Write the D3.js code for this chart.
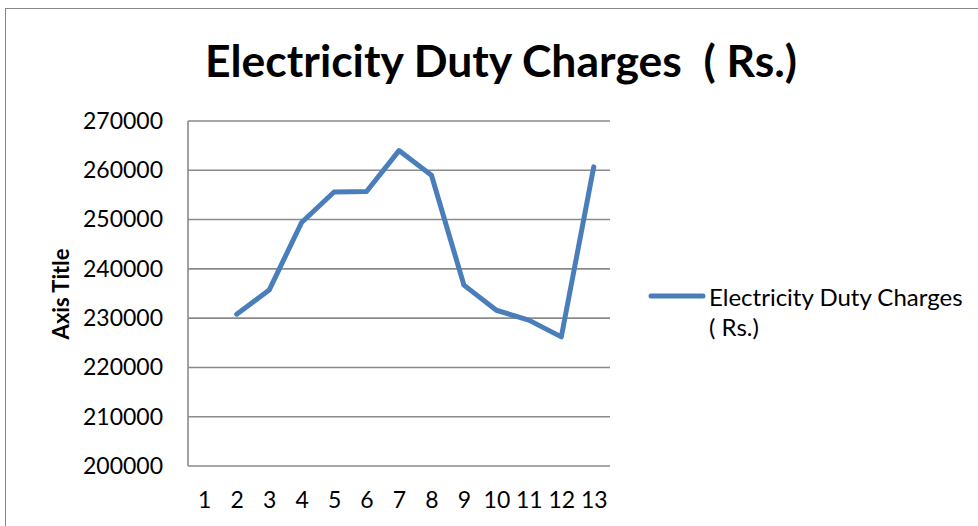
<!DOCTYPE html>
<html>
<head>
<meta charset="utf-8">
<script src="https://cdn.jsdelivr.net/npm/d3@7"></script>
<style>
  body { margin: 0; background: #fff; }
  svg { display: block; font-family: Lato, "Open Sans", sans-serif; }
</style>
</head>
<body>
<div id="chart"></div>
<script>
// categories on the x axis (1..13), first one has no value
var categories = ["1", "2", "3", "4", "5", "6", "7", "8", "9", "10", "11", "12", "13"];
var charges = [null, 230800, 235700, 249400, 255600, 255700, 264000, 259000, 236700, 231600, 229600, 226200, 260700];
var yTicks = [200000, 210000, 220000, 230000, 240000, 250000, 260000, 270000];
var seriesName = ["Electricity Duty Charges", "( Rs.)"];
var titleText = "Electricity Duty Charges  ( Rs.)";

var W = 978, H = 526;
var plot = {left: 188, right: 610, top: 121, bottom: 466};

var svg = d3.select("#chart").append("svg")
    .attr("width", W)
    .attr("height", H);

// chart frame (runs off the right / bottom edge)
svg.append("rect")
  .attr("x", 5.5).attr("y", 8.5)
  .attr("width", W).attr("height", H)
  .attr("fill", "none")
  .attr("stroke", "#878787")
  .attr("stroke-width", 1);

var x = d3.scalePoint().domain(categories)
    .range([plot.left, plot.right]).padding(0.5);
var y = d3.scaleLinear().domain([200000, 270000])
    .range([plot.bottom, plot.top]);

// gridlines
svg.append("g")
  .selectAll("line")
  .data(yTicks)
  .join("line")
  .attr("x1", plot.left).attr("x2", plot.right)
  .attr("y1", d => y(d)).attr("y2", d => y(d))
  .attr("stroke", "#8a8a8a")
  .attr("stroke-width", 1.6);

// y axis line
svg.append("line")
  .attr("x1", plot.left).attr("x2", plot.left)
  .attr("y1", plot.top).attr("y2", plot.bottom)
  .attr("stroke", "#8a8a8a")
  .attr("stroke-width", 1.6);

// y tick labels
var yAxis = svg.append("g")
    .attr("transform", "translate(" + plot.left + ",0)")
    .call(d3.axisLeft(y).tickValues(yTicks).tickSize(0).tickPadding(25).tickFormat(d3.format("d")));
yAxis.select(".domain").remove();
yAxis.selectAll("text")
  .attr("font-family", "Lato, 'Open Sans', sans-serif")
  .attr("font-size", 23)
  .attr("fill", "#000");

// x tick labels
var xAxis = svg.append("g")
    .attr("transform", "translate(0," + plot.bottom + ")")
    .call(d3.axisBottom(x).tickSize(0).tickPadding(26));
xAxis.select(".domain").remove();
xAxis.selectAll("text")
  .attr("font-family", "Lato, 'Open Sans', sans-serif")
  .attr("font-size", 23)
  .attr("fill", "#000");

// the series line
var line = d3.line()
    .defined(d => d != null)
    .x((d, i) => x(categories[i]))
    .y(d => y(d));

svg.append("path")
  .attr("fill", "none")
  .attr("stroke", "#4a7ebb")
  .attr("stroke-width", 5)
  .attr("stroke-linejoin", "round")
  .attr("stroke-linecap", "round")
  .attr("d", line(charges));

// title
svg.append("text")
  .attr("x", 501).attr("y", 77)
  .attr("text-anchor", "middle")
  .attr("font-size", 44)
  .attr("font-weight", "bold")
  .attr("textLength", 592)
  .attr("lengthAdjust", "spacingAndGlyphs")
  .style("white-space", "pre")
  .text(titleText);

// axis title
svg.append("text")
  .attr("transform", "translate(69,294) rotate(-90)")
  .attr("text-anchor", "middle")
  .attr("font-size", 22)
  .attr("font-weight", "bold")
  .text("Axis Title");

// legend
var legend = svg.append("g");
legend.append("line")
  .attr("x1", 651).attr("x2", 703)
  .attr("y1", 296).attr("y2", 296)
  .attr("stroke", "#4a7ebb")
  .attr("stroke-width", 5)
  .attr("stroke-linecap", "round");
legend.selectAll("text")
  .data(seriesName)
  .join("text")
  .attr("x", 709)
  .attr("y", (d, i) => 306 + i * 30)
  .attr("font-size", 24)
  .text(d => d);
</script>
</body>
</html>
